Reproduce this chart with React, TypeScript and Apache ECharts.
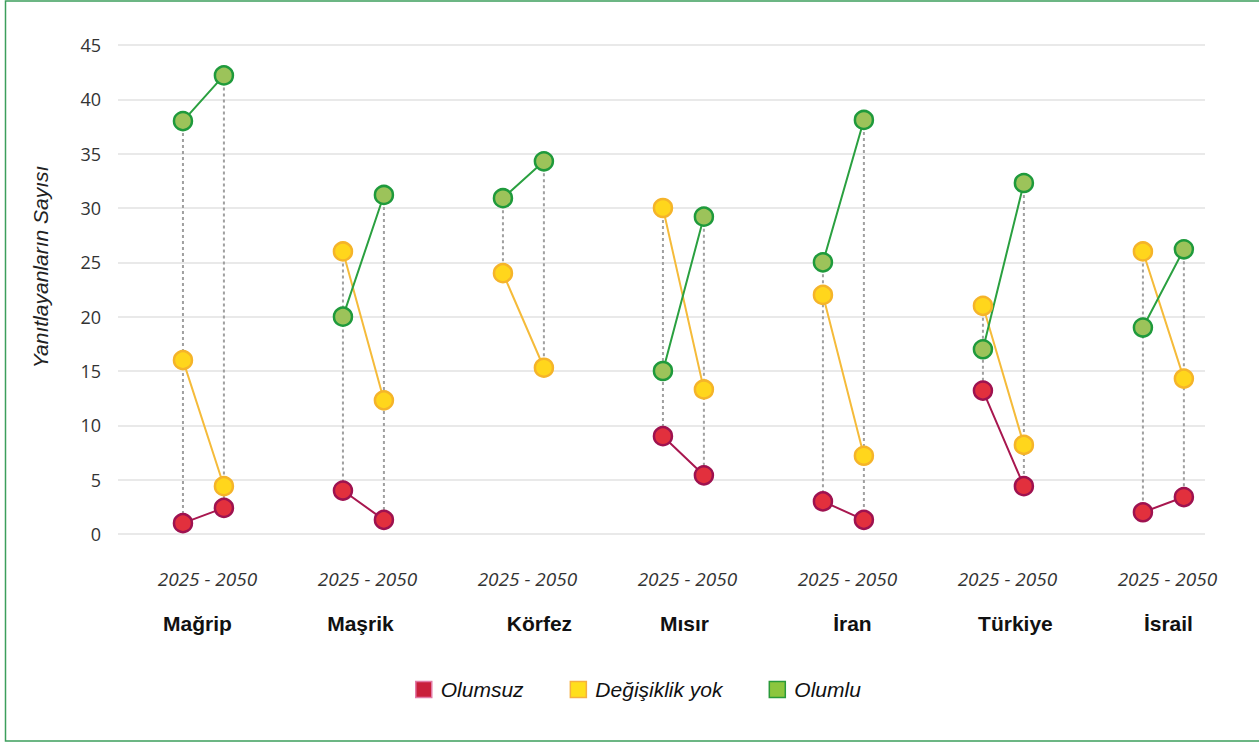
import React, { useEffect, useRef } from "react";
import * as echarts from "echarts";

const groups = ["Mağrip", "Maşrik", "Körfez", "Mısır", "İran", "Türkiye", "İsrail"];
const yearLabel = "2025 - 2050";
const seriesNames = ["Olumsuz", "Değişiklik yok", "Olumlu"];

const olumsuz2025 = [1, 4, null, 9, 3, 13.2, 2];
const olumsuz2050 = [2.4, 1.3, null, 5.4, 1.3, 4.4, 3.4];
const degisiklik2025 = [16, 26, 24, 30, 22, 21, 26];
const degisiklik2050 = [4.4, 12.3, 15.3, 13.3, 7.2, 8.2, 14.3];
const olumlu2025 = [38, 20, 30.9, 15, 25, 17, 19];
const olumlu2050 = [42.2, 31.2, 34.3, 29.2, 38.1, 32.3, 26.2];

const yMin = 0;
const yMax = 45;
const yInterval = 5;

const OFF = 0.128;
// horizontal label nudges (px) to match the original's label placement
const countryShift = [-6, -3, 16, 1, 9, 12, 5];
const yearShift = 4;

const styles = [
  { fill: "#e2303d", border: "#9e1250", line: "#a8174f", lfill: "#c91f3b", lborder: "#e27aa6" },
  { fill: "#ffd61c", border: "#f5b42a", line: "#f5bb3a", lfill: "#ffdf1c", lborder: "#f5b040" },
  { fill: "#9cc35a", border: "#1f9a3c", line: "#2aa040", lfill: "#8cc63e", lborder: "#2a9a3a" },
];

function pairData(a: (number | null)[], b: (number | null)[]) {
  const out: any[] = [];
  groups.forEach((_, i) => {
    out.push([i - OFF, a[i] == null ? "-" : a[i]]);
    out.push([i + OFF, b[i] == null ? "-" : b[i]]);
    out.push([i + 0.5, "-"]);
  });
  return out;
}

export default function App() {
  const ref = useRef<HTMLDivElement>(null);
  useEffect(() => {
    const chart = echarts.init(ref.current!, null, { renderer: "svg" });
    const all = [
      [olumsuz2025, olumsuz2050],
      [degisiklik2025, degisiklik2050],
      [olumlu2025, olumlu2050],
    ];
    const dotted: any[] = [];
    groups.forEach((_, i) => {
      [0, 1].forEach((k) => {
        const vals = all.map((p) => p[k][i]).filter((v) => v != null) as number[];
        dotted.push([k === 0 ? i - OFF : i + OFF, Math.min(...vals), Math.max(...vals)]);
      });
    });
    const rich: any = {
      y: {
        fontFamily: "Open Sans",
        fontStyle: "italic",
        fontSize: 19,
        color: "#333",
        lineHeight: 46,
        padding: [0, 0, 0, yearShift * 2],
      },
    };
    groups.forEach((_, i) => {
      const s = countryShift[i];
      rich["c" + i] = {
        fontFamily: "Liberation Sans",
        fontWeight: "bold",
        fontSize: 21,
        color: "#111",
        lineHeight: 42,
        padding: s >= 0 ? [0, 0, 0, s * 2] : [0, -s * 2, 0, 0],
      };
    });
    const option: any = {
      animation: false,
      backgroundColor: "#ffffff",
      grid: { left: 118, right: 54, top: 45, bottom: 208, containLabel: false },
      xAxis: {
        type: "value",
        min: -0.534,
        max: 6.26,
        axisLine: { show: false },
        axisTick: { show: false },
        splitLine: { show: false },
        axisLabel: {
          customValues: groups.map((_, i) => i),
          margin: 22,
          formatter: (v: number) => {
            const i = Math.round(v);
            return `{y|${yearLabel}}\n{c${i}|${groups[i]}}`;
          },
          rich,
        },
      },
      yAxis: {
        type: "value",
        min: yMin,
        max: yMax,
        interval: yInterval,
        axisLine: { show: false },
        axisTick: { show: false },
        axisLabel: { fontFamily: "Open Sans", fontSize: 18, color: "#333", margin: 17 },
        splitLine: { lineStyle: { color: "#e2e2e2", width: 1.5 } },
      },
      legend: {
        left: 410,
        top: 674,
        icon: "rect",
        itemWidth: 16,
        itemHeight: 16,
        itemGap: 46,
        textStyle: {
          fontFamily: "Liberation Sans",
          fontStyle: "italic",
          fontSize: 21,
          color: "#111",
          padding: [0, 0, 0, 4],
        },
        data: seriesNames.map((n, i) => ({
          name: n,
          itemStyle: { color: styles[i].lfill, borderColor: styles[i].lborder, borderWidth: 1.5 },
        })),
      },
      graphic: [
        {
          type: "rect",
          shape: { x: 5.5, y: 1, width: 1400, height: 740 },
          style: { fill: "none", stroke: "#3c9e5c", lineWidth: 1.5 },
          silent: true,
        },
        {
          type: "text",
          x: 40,
          y: 267,
          rotation: Math.PI / 2,
          style: {
            text: "Yanıtlayanların Sayısı",
            font: 'italic 21px "Liberation Sans"',
            fill: "#222",
            align: "center",
            verticalAlign: "middle",
          },
        },
      ],
      series: [
        {
          type: "custom",
          name: "dots",
          silent: true,
          z: 1,
          data: dotted,
          encode: { x: 0, y: [1, 2] },
          renderItem: (params: any, api: any) => {
            const x = api.value(0);
            const p1 = api.coord([x, api.value(2)]);
            const p2 = api.coord([x, api.value(1)]);
            return {
              type: "line",
              shape: { x1: p1[0], y1: p1[1], x2: p2[0], y2: p2[1] },
              style: { stroke: "#a0a0a0", lineWidth: 2, lineDash: [3, 3] },
            };
          },
        },
        ...all.map((p, i) => ({
          type: "line",
          name: seriesNames[i],
          z: 3,
          data: pairData(p[0], p[1]),
          connectNulls: false,
          symbol: "circle",
          symbolSize: 18,
          lineStyle: { color: styles[i].line, width: 2 },
          itemStyle: { color: styles[i].fill, borderColor: styles[i].border, borderWidth: 2.5 },
        })),
      ],
    };
    chart.setOption(option);
    return () => chart.dispose();
  }, []);
  return (
    <div
      ref={ref}
      style={{ position: "fixed", left: 0, top: 0, width: 1259, height: 742, background: "#fff" }}
    />
  );
}
